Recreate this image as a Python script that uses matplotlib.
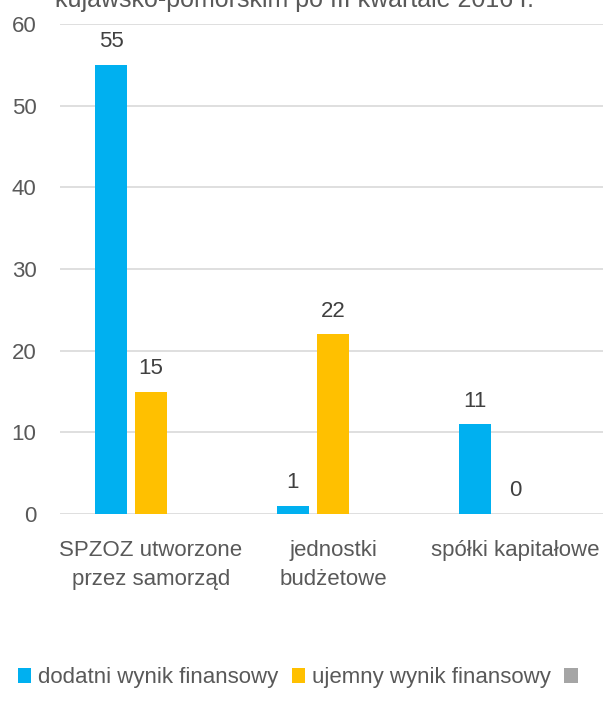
import numpy as np
import matplotlib
matplotlib.use('Agg')
import matplotlib.pyplot as plt

plt.rcParams['font.family'] = ['Liberation Sans', 'DejaVu Sans']

categories = ['SPZOZ utworzone\nprzez samorząd', 'jednostki\nbudżetowe', 'spółki kapitałowe']
dodatni = [55, 1, 11]
ujemny = [15, 22, 0]
trzeci = [0, 0, 0]
series_names = ['dodatni wynik finansowy', 'ujemny wynik finansowy', ' ']
colors = ['#00B0F0', '#FFC000', '#A5A5A5']
title = 'kujawsko-pomorskim po III kwartale 2016 r.'

txt = '#595959'
fig = plt.figure(figsize=(6.03, 7.04), dpi=100)
ax = fig.add_axes([60 / 603, 1 - 514 / 704, 1 - 60 / 603, 490 / 704])

x = np.arange(len(categories))
w = 0.176
off = 0.22
b1 = ax.bar(x - off, dodatni, w, color=colors[0], label=series_names[0], zorder=3)
b2 = ax.bar(x, ujemny, w, color=colors[1], label=series_names[1], zorder=3)
b3 = ax.bar(x + off, trzeci, w, color=colors[2], label=series_names[2], zorder=3)

for bars in (b1, b2):
    for r in bars:
        ax.annotate(f'{int(r.get_height())}', (r.get_x() + r.get_width() / 2, r.get_height()),
                    xytext=(0, 9), textcoords='offset points', ha='center', va='bottom',
                    fontsize=16, color='#404040')

ax.set_ylim(0, 60)
ax.set_yticks(range(0, 61, 10))
ax.set_xlim(-0.5, 2.484)
ax.set_xticks(x)
ax.set_xticklabels(categories, fontsize=16, color=txt, linespacing=1.45)
ax.tick_params(axis='y', labelsize=16, labelcolor=txt, length=0, pad=17)
ax.tick_params(axis='x', length=0, pad=19)
ax.grid(axis='y', color='#D9D9D9', linewidth=1.2, zorder=0)
for s in ax.spines.values():
    s.set_visible(False)

fig.text(0.488, 1.0, title, ha='center', va='center', fontsize=18, color=txt)

fig.legend(handles=[b1, b2, b3], labels=series_names, loc='center left',
           bbox_to_anchor=(2 / 603, 1 - 678 / 704), ncol=3, frameon=False,
           fontsize=16, labelcolor=txt, handlelength=0.62, handleheight=0.62,
           handletextpad=0.3, columnspacing=0.6, borderpad=0.2)

fig.savefig('out.png', dpi=100)
